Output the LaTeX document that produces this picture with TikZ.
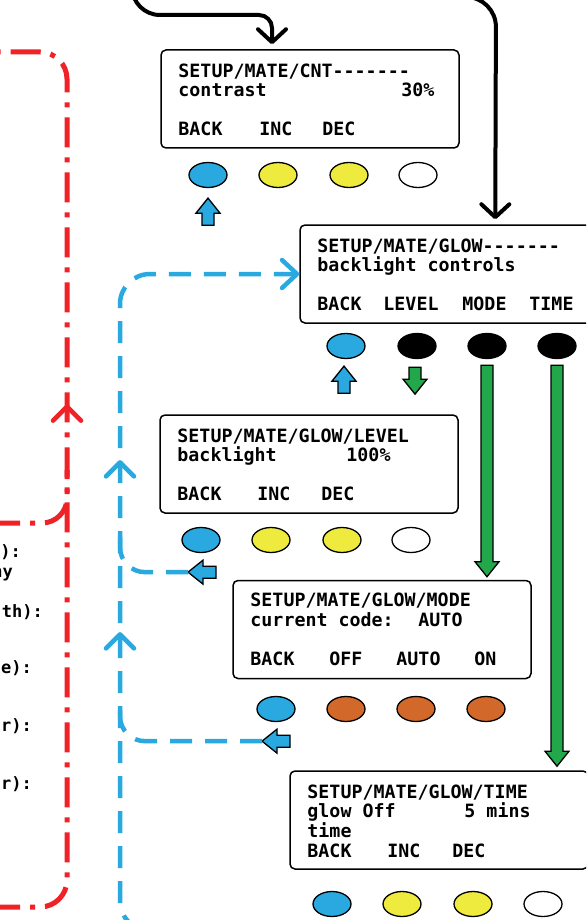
\documentclass[tikz,border=0pt]{standalone}
\usepackage{fontspec}
\setmonofont{DejaVu Sans Mono}
\usepackage{tikz}
\usetikzlibrary{arrows.meta, shapes.geometric, calc, decorations.markings}

\definecolor{btnblue}{HTML}{29A9E0}
\definecolor{btnyellow}{HTML}{EEEA3E}
\definecolor{btnorange}{HTML}{D2692A}
\definecolor{arrgreen}{HTML}{22A84B}
\definecolor{exitred}{HTML}{EE2227}

\tikzset{
    screen/.style={draw, rounded corners=5pt, line width=1.5pt, minimum width=298pt, minimum height=98pt, inner sep=0pt},
    lcd/.style={font=\ttfamily\bfseries\fontsize{18.3}{20}\selectfont, anchor=base west, inner sep=0pt},
    btn/.style={ellipse, draw, line width=1.3pt, minimum width=38pt, minimum height=25pt, inner sep=0pt},
    flow/.style={line width=4pt, line cap=round, -{Straight Barb[length=13pt, width=28pt, round]}},
    backpath/.style={line width=4.5pt, btnblue, dash pattern=on 22pt off 13pt},
    exitpath/.style={line width=5pt, exitred, dash pattern=on 30pt off 10pt on 5pt off 10pt},
    upmark/.style={postaction={decorate, decoration={markings,
        mark=at position #1 with {\arrow[line width=4.5pt]{Straight Barb[length=14pt, width=28pt, round]}}}}},
    note/.style={font=\ttfamily\bfseries\fontsize{17}{19}\selectfont, anchor=base east, inner sep=0pt},
}

% filled block arrow from #1 to the tip #2
\newcommand\blockarrow[3]{%
    \coordinate (ba-h) at ($(#2)!15pt!(#1)$);
    \filldraw[fill=#3, draw=black, line width=1.3pt, line join=miter]
        ($(#1)!6pt!90:(#2)$) -- ($(ba-h)!6pt!-90:(#1)$) -- ($(ba-h)!12pt!-90:(#1)$) -- (#2)
        -- ($(ba-h)!12pt!90:(#1)$) -- ($(ba-h)!6pt!90:(#1)$) -- ($(#1)!6pt!-90:(#2)$) -- cycle;}

\begin{document}
\begin{tikzpicture}[x=1pt, y=-1pt]
    \useasboundingbox (0,0) rectangle (586,920);
    \clip (0,0) rectangle (586,920);

%____________________________________________________________________________________________________
    % contrast screen
    \node[screen] (cnt) at (310,99) {};
    \node[lcd] (cnt-l1) at ($(cnt.north west)+(18,28)$) {SETUP/MATE/CNT-------};
    \node[lcd] (cnt-l2) at ($(cnt.north west)+(18,47)$) {contrast};
    \node[lcd] (cnt-val) at ($(cnt.north west)+(241,47)$) {30\%};
    \node[lcd] (cnt-k1) at ($(cnt.north west)+(18,86)$) {BACK};
    \node[lcd] (cnt-k2) at ($(cnt.north west)+(99,86)$) {INC};
    \node[lcd] (cnt-k3) at ($(cnt.north west)+(162,86)$) {DEC};

    \node[btn, fill=btnblue] (cntb1) at (208,175) {};
    \node[btn, fill=btnyellow] (cntb2) at (278,175) {};
    \node[btn, fill=btnyellow] (cntb3) at (349,175) {};
    \node[btn, fill=white] (cntb4) at (418,175) {};

    \coordinate (cnt-up-t) at ($(cntb1.south)+(0,37)$);
    \coordinate (cnt-up-h) at ($(cntb1.south)+(0,10)$);
    \blockarrow{cnt-up-t}{cnt-up-h}{btnblue}

%____________________________________________________________________________________________________
    % glow screen
    \node[screen] (glow) at (449,274) {};
    \node[lcd] (glow-l1) at ($(glow.north west)+(18,28)$) {SETUP/MATE/GLOW-------};
    \node[lcd] (glow-l2) at ($(glow.north west)+(18,47)$) {backlight controls};
    \node[lcd] (glow-k1) at ($(glow.north west)+(18,86)$) {BACK};
    \node[lcd] (glow-k2) at ($(glow.north west)+(84,86)$) {LEVEL};
    \node[lcd] (glow-k3) at ($(glow.north west)+(163,86)$) {MODE};
    \node[lcd] (glow-k4) at ($(glow.north west)+(230,86)$) {TIME};

    \node[btn, fill=btnblue] (glowb1) at (346,346) {};
    \node[btn, fill=black] (glowb2) at (417,346) {};
    \node[btn, fill=black] (glowb3) at (487,346) {};
    \node[btn, fill=black] (glowb4) at (557,346) {};

    \coordinate (glow-up-t) at ($(glowb1.south)+(-2,34)$);
    \coordinate (glow-up-h) at ($(glowb1.south)+(-2,7)$);
    \blockarrow{glow-up-t}{glow-up-h}{btnblue}
    \coordinate (glow-dn-t) at ($(glowb2.south)+(-2,8)$);
    \coordinate (glow-dn-h) at ($(glowb2.south)+(-2,35)$);
    \blockarrow{glow-dn-t}{glow-dn-h}{arrgreen}

%____________________________________________________________________________________________________
    % level screen
    \node[screen] (level) at (309,464) {};
    \node[lcd] (level-l1) at ($(level.north west)+(18,28)$) {SETUP/MATE/GLOW/LEVEL};
    \node[lcd] (level-l2) at ($(level.north west)+(18,47)$) {backlight};
    \node[lcd] (level-val) at ($(level.north west)+(187,47)$) {100\%};
    \node[lcd] (level-k1) at ($(level.north west)+(18,86)$) {BACK};
    \node[lcd] (level-k2) at ($(level.north west)+(98,86)$) {INC};
    \node[lcd] (level-k3) at ($(level.north west)+(162,86)$) {DEC};

    \node[btn, fill=btnblue] (levelb1) at (201,540) {};
    \node[btn, fill=btnyellow] (levelb2) at (271,540) {};
    \node[btn, fill=btnyellow] (levelb3) at (342,540) {};
    \node[btn, fill=white] (levelb4) at (411,540) {};

    \coordinate (level-lf-t) at ($(levelb1.south)+(15,19)$);
    \coordinate (level-lf-h) at ($(levelb1.south)+(-13,19)$);
    \blockarrow{level-lf-t}{level-lf-h}{btnblue}

%____________________________________________________________________________________________________
    % mode screen
    \node[screen] (mode) at (382,629.5) {};
    \node[lcd] (mode-l1) at ($(mode.north west)+(18,27)$) {SETUP/MATE/GLOW/MODE};
    \node[lcd] (mode-l2) at ($(mode.north west)+(18,47)$) {current code:};
    \node[lcd] (mode-val) at ($(mode.north west)+(186,47)$) {AUTO};
    \node[lcd] (mode-k1) at ($(mode.north west)+(18,86)$) {BACK};
    \node[lcd] (mode-k2) at ($(mode.north west)+(97,86)$) {OFF};
    \node[lcd] (mode-k3) at ($(mode.north west)+(164,86)$) {AUTO};
    \node[lcd] (mode-k4) at ($(mode.north west)+(242,86)$) {ON};

    \node[btn, fill=btnblue] (modeb1) at (276,709) {};
    \node[btn, fill=btnorange] (modeb2) at (346,709) {};
    \node[btn, fill=btnorange] (modeb3) at (416,709) {};
    \node[btn, fill=btnorange] (modeb4) at (486,709) {};

    \coordinate (mode-lf-t) at ($(modeb1.south)+(14,19)$);
    \coordinate (mode-lf-h) at ($(modeb1.south)+(-14,19)$);
    \blockarrow{mode-lf-t}{mode-lf-h}{btnblue}

%____________________________________________________________________________________________________
    % time screen
    \node[screen] (time) at (439,820) {};
    \node[lcd] (time-l1) at ($(time.north west)+(18,28)$) {SETUP/MATE/GLOW/TIME};
    \node[lcd] (time-l2) at ($(time.north west)+(18,47)$) {glow Off};
    \node[lcd] (time-val) at ($(time.north west)+(175,47)$) {5 mins};
    \node[lcd] (time-l3) at ($(time.north west)+(18,67)$) {time};
    \node[lcd] (time-k1) at ($(time.north west)+(18,87)$) {BACK};
    \node[lcd] (time-k2) at ($(time.north west)+(98,87)$) {INC};
    \node[lcd] (time-k3) at ($(time.north west)+(163,87)$) {DEC};

    \node[btn, fill=btnblue] (timeb1) at (332,904) {};
    \node[btn, fill=btnyellow] (timeb2) at (402,904) {};
    \node[btn, fill=btnyellow] (timeb3) at (473,904) {};
    \node[btn, fill=white] (timeb4) at (543,904) {};

%____________________________________________________________________________________________________
    % green arrows from MODE and TIME keys
    \coordinate (to-mode-t) at ($(glowb3.south)+(0,6)$);
    \coordinate (to-mode-h) at ($(glowb3.south |- mode.north)+(0,-3)$);
    \blockarrow{to-mode-t}{to-mode-h}{arrgreen}
    \coordinate (to-time-t) at ($(glowb4.south)+(0,6)$);
    \coordinate (to-time-h) at ($(glowb4.south |- time.north)+(0,-4)$);
    \blockarrow{to-time-t}{to-time-h}{arrgreen}

    % black arrows coming in from above
    \draw[flow] (132,-40) [rounded corners=28pt] -- (132,15) [rounded corners=13pt] -- (272,15) -- ($(cnt.north)+(-38,-5)$);
    \draw[flow, rounded corners=30pt] (420,-3) -- (496,-3) -- ($(glow.north west)+(196,-5)$);

    % blue back paths
    \coordinate (spine) at (120,500);
    \draw[backpath, upmark=513pt, upmark=341pt, rounded corners=30pt, -{Straight Barb[length=15pt, width=28pt, round]}]
        (175,931) -- (spine |- 0,931) -- (spine |- glow.west) -- (glow.west);
    \draw[backpath, rounded corners=25pt] (level-lf-h) -- (spine |- level-lf-h) -- ($(spine |- level-lf-h)+(0,-40)$);
    \draw[backpath, rounded corners=25pt] (mode-lf-h) -- (spine |- mode-lf-h) -- ($(spine |- mode-lf-h)+(0,-40)$);

    % red exit paths
    \draw[exitpath, rounded corners=27pt, upmark=568pt] (-10,907) -- (67,907) -- (67,52) -- (-10,52);
    \draw[exitpath, rounded corners=25pt] (-10,523) -- (67,523) -- (67,470);

    % notes cut at the left edge
    \node[note] (n1) at (21,557) {):};
    \node[note] (n2) at (13,577) {ny};
    \node[note] (n3) at (43,617) {th):};
    \node[note] (n4) at (32,673) {e):};
    \node[note] (n5) at (32,731) {r):};
    \node[note] (n6) at (32,789) {r):};
    \node[note] (n7) at (3,866) {)};
\end{tikzpicture}
\end{document}
